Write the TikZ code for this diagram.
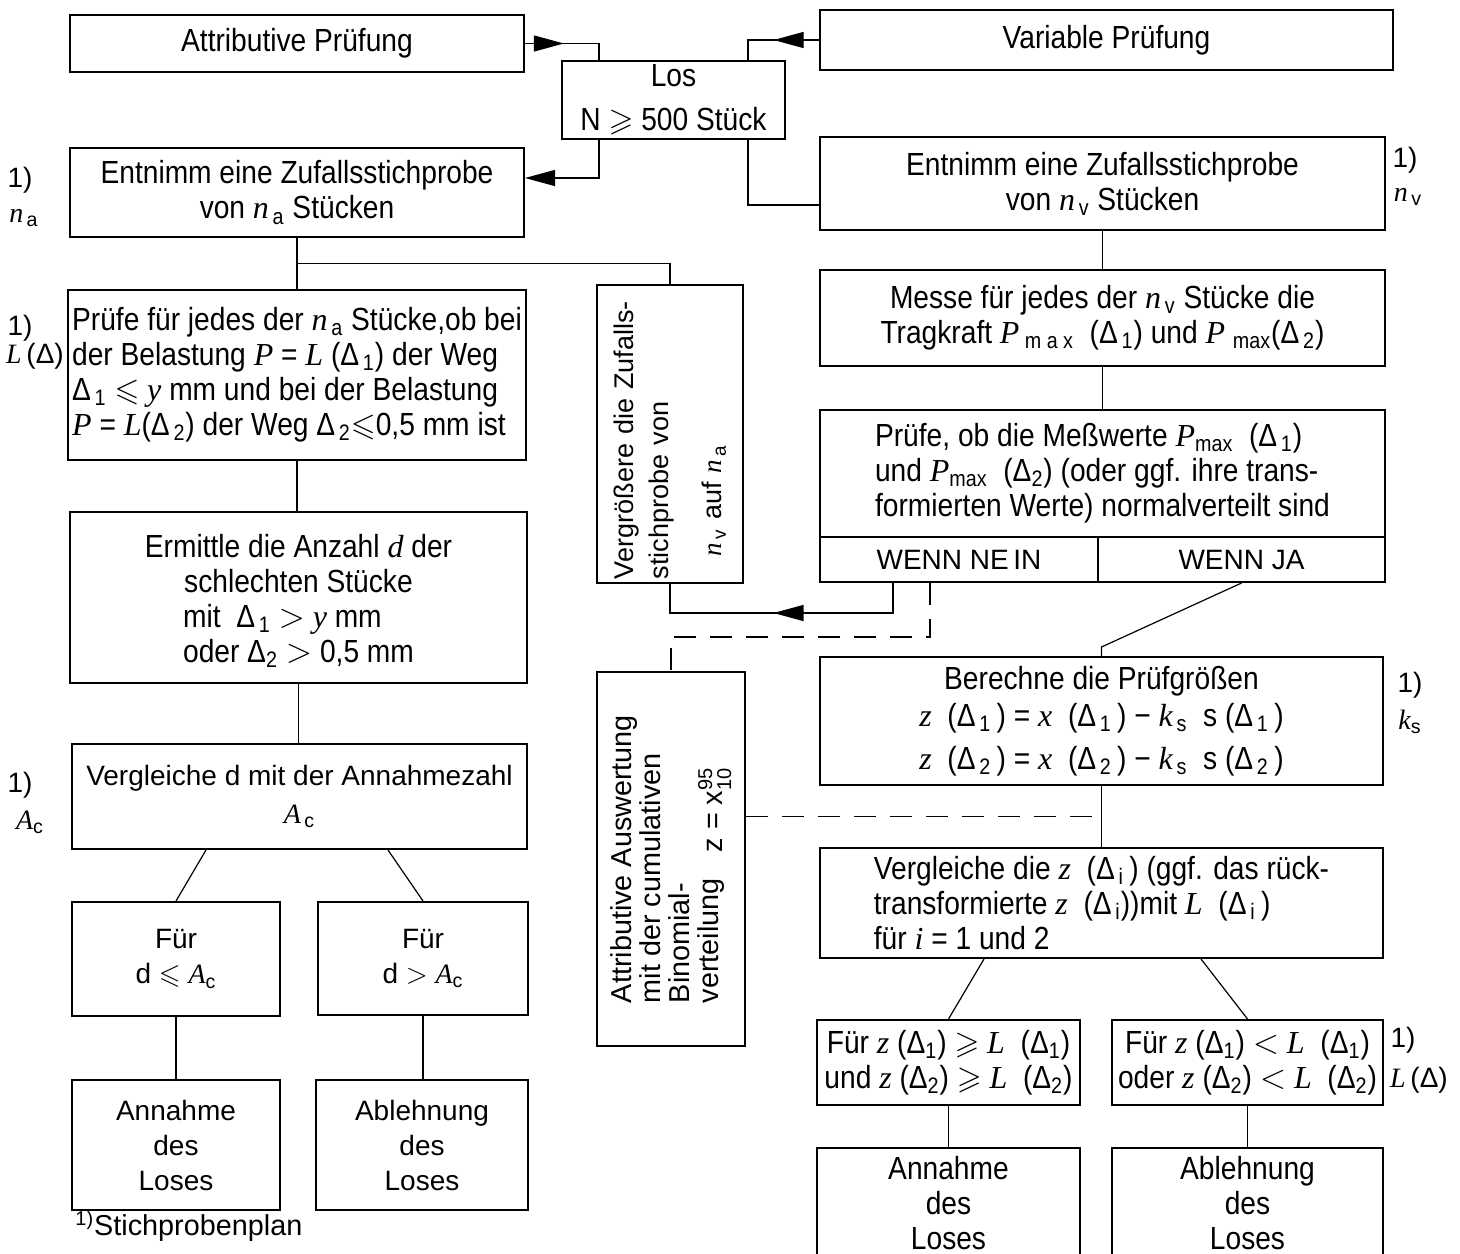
\documentclass[tikz,border=0pt]{standalone}
\usepackage{amsmath,amssymb}
\usepackage{fontspec}
\setmainfont{Liberation Sans}
\newfontfamily\condfont[FakeStretch=0.88]{Liberation Sans}
\newfontfamily\serifit{Liberation Serif}
\newcommand\iv[1]{{\serifit\itshape #1}}
\usetikzlibrary{arrows.meta,positioning,calc,decorations.markings}

\begin{document}
\begin{tikzpicture}[x=0.5pt,y=-0.5pt,>={Triangle[length=15pt,width=8pt]}]
  \tikzstyle{box}=[draw,line width=1pt,inner sep=2pt,align=center,font=\condfont\fontsize{16}{17.5}\selectfont]
  \tikzstyle{wbox}=[box,font=\fontsize{14}{17.5}\selectfont]
  \tikzstyle{rbox}=[box,rotate=90,align=left,font=\fontsize{13.5}{17.5}\selectfont]
  \tikzstyle{line}=[line width=0.6pt]
  \tikzstyle{dline}=[line,dash pattern=on 11pt off 7pt]
  \tikzstyle{note}=[inner sep=0pt,font=\fontsize{14}{17.5}\selectfont]
  \tikzset{midarrow/.style={line,postaction={decorate},
      decoration={markings,mark=at position #1 with {\arrow{>}}}}}
  \useasboundingbox (0,0) rectangle (1460,1253);

  % oben
  \node[box,minimum width=227pt,minimum height=28.5pt] (attr) at (297,43.5) {Attributive Prüfung};
  \node[box,minimum width=286.5pt,minimum height=30pt] (var) at (1106.5,40) {Variable Prüfung};
  \node[box,minimum width=111.5pt,minimum height=37pt] (los) at (673.5,100) {Los\\[4.5pt]N $\geqslant$ 500 Stück};

  % attributive Seite
  \node[box,minimum width=227pt,minimum height=44.5pt] (enta) at (297,192.5)
    {Entnimm eine Zufallsstichprobe\\von \iv{n}\textsubscript{\,a} Stücken};
  \node[box,minimum width=227pt,minimum height=85pt,align=left] (pruefa) at (297,375)
    {Prüfe für jedes der \iv{n}\textsubscript{\,a} Stücke,ob bei\\der Belastung \iv{P} = \iv{L} (Δ\textsubscript{\,1}) der Weg\\Δ\textsubscript{\,1} $\leqslant$ \iv{y} mm und bei der Belastung\\\iv{P} = \iv{L}(Δ\textsubscript{\,2}) der Weg Δ\textsubscript{\,2}$\leqslant$0,5 mm ist};
  \node[box,minimum width=228.5pt,minimum height=85.5pt] (ermittle) at (298.5,597.5)
    {\rule{0pt}{18pt}Ermittle die Anzahl \iv{d} der\\schlechten Stücke\\\begin{tabular}[t]{@{}l@{}}mit\ \ Δ\textsubscript{\,1} $>$ \iv{y} mm\\oder Δ\textsubscript{2} $>$ 0,5 mm\end{tabular}};
  \node[wbox,minimum width=227.5pt,minimum height=52.5pt] (vergla) at (299.5,796.5)
    {Vergleiche d mit der Annahmezahl\\[1.5pt]\iv{A}\textsubscript{\,c}};
  \node[wbox,minimum width=104pt,minimum height=57pt] (fuera1) at (176,959) {Für\\d $\leqslant$ \iv{A}\textsubscript{c}};
  \node[wbox,minimum width=105pt,minimum height=56.5pt] (fuera2) at (423,958.5) {Für\\d $>$ \iv{A}\textsubscript{c}};
  \node[wbox,minimum width=104pt,minimum height=65pt] (annaa) at (176,1145) {Annahme\\des\\Loses};
  \node[wbox,minimum width=106pt,minimum height=65pt] (ablea) at (422,1145) {Ablehnung\\des\\Loses};

  % Mitte
  \node[rbox,minimum width=149pt,minimum height=73pt,text width=145pt] (vergr) at (670,434)
    {Vergrößere die Zufalls-\\stichprobe von\\[9pt]\hspace*{0.85em}\iv{n}\textsubscript{\,v} auf \iv{n}\textsubscript{\,a}};
  \node[rbox,minimum width=187pt,minimum height=74pt,font=\fontsize{14.4}{14.5}\selectfont] (attaus) at (671,859)
    {Attributive Auswertung\\mit der cumulativen\\Binomial-\\verteilung\hspace{0.9em}\raisebox{-2pt}{$\text{z = x}^{\text{95}}_{\text{10}}$}};

  % variable Seite
  \node[box,minimum width=282.5pt,minimum height=46.5pt] (entv) at (1102.5,183.5)
    {Entnimm eine Zufallsstichprobe\\von \iv{n}\textsubscript{\,v} Stücken};
  \node[box,minimum width=282.5pt,minimum height=48pt] (messe) at (1102.5,318)
    {Messe für jedes der \iv{n}\textsubscript{\,v} Stücke die\\Tragkraft \iv{P}\,\textsubscript{m a x}\ \ (Δ\textsubscript{\,1}) und \iv{P}\ \textsubscript{max}(Δ\textsubscript{\,2})};
  \node[box,minimum width=282.5pt,minimum height=63.5pt,align=left] (pruefv) at (1102.5,473.5)
    {Prüfe, ob die Meßwerte \iv{P}\textsubscript{max}\ \ (Δ\textsubscript{\,1})\\und \iv{P}\textsubscript{max}\ \ (Δ\textsubscript{2}) (oder ggf. ihre trans-\\formierten Werte) normalverteilt sind};
  \node[wbox,minimum width=139pt,minimum height=22.5pt] (nein) at (959,559.5) {WENN NE\,IN};
  \node[wbox,minimum width=143.5pt,minimum height=22.5pt] (ja) at (1241.5,559.5) {\raisebox{-2pt}{WENN JA}};
  \node[box,minimum width=281.5pt,minimum height=64pt] (berech) at (1101.5,721)
    {Berechne die Prüfgrößen\\[1pt]\iv{z}\ \ (Δ\textsubscript{\,1}\,) = \iv{x}\ \ (Δ\textsubscript{\,1}\,) − \iv{k}\textsubscript{\,s}\ \ s (Δ\textsubscript{\,1}\,)\\[4pt]\iv{z}\ \ (Δ\textsubscript{\,2}\,) = \iv{x}\ \ (Δ\textsubscript{\,2}\,) − \iv{k}\textsubscript{\,s}\ \ s (Δ\textsubscript{\,2}\,)};
  \node[box,minimum width=281.5pt,minimum height=55pt,align=left] (verglv) at (1101.5,903)
    {Vergleiche die \iv{z}\ \ (Δ\textsubscript{\,i}\,) (ggf. das rück-\\transformierte \iv{z}\ \ (Δ\textsubscript{\,i}))mit \iv{L}\ \ (Δ\textsubscript{\,i}\,)\\für \iv{i} = 1 und 2};
  \node[box,minimum width=131.5pt,minimum height=42.5pt] (fuerv1) at (948.5,1062.5)
    {Für \iv{z}\ (Δ\textsubscript{1}) $\geqslant$ \iv{L}\ \ (Δ\textsubscript{1})\\und \iv{z}\ (Δ\textsubscript{2}) $\geqslant$ \iv{L}\ \ (Δ\textsubscript{2})};
  \node[box,minimum width=135.5pt,minimum height=42.5pt] (fuerv2) at (1247.5,1062.5)
    {Für \iv{z}\ (Δ\textsubscript{1}) $<$ \iv{L}\ \ (Δ\textsubscript{1})\\oder \iv{z}\ (Δ\textsubscript{2}) $<$ \iv{L}\ \ (Δ\textsubscript{2})};
  \node[box,minimum width=131.5pt,minimum height=55pt] (annav) at (948.5,1203) {Annahme\\des\\Loses};
  \node[box,minimum width=135.5pt,minimum height=55pt] (ablev) at (1247.5,1203) {Ablehnung\\des\\Loses};

  % Fussnoten-Marken
  \node[note] (fa1) at (20,180) {1)};
  \node[note] (fa2) at (24,218) {\iv{n}\textsubscript{\,a}};
  \node[note] (fb1) at (20,328) {1)};
  \node[note] (fb2) at (35,356) {\iv{L}\,(Δ)};
  \node[note] (fc1) at (20,785) {1)};
  \node[note] (fc2) at (30,822) {\iv{A}\textsubscript{c}};
  \node[note] (fd1) at (1405,160) {1)};
  \node[note] (fd2) at (1408,197) {\iv{n}\textsubscript{\,v}};
  \node[note] (fe1) at (1410,685) {1)};
  \node[note] (fe2) at (1410,722) {\iv{k}\textsubscript{s}};
  \node[note] (ff1) at (1403,1040) {1)};
  \node[note] (ff2) at (1419,1080) {\iv{L}\,(Δ)};
  \node[note,anchor=west,font=\fontsize{14.4}{17.5}\selectfont] (fuss) at (75,1226) {\textsuperscript{1)}Stichprobenplan};

  % Verbindungen
  \coordinate (losA) at ([xshift=19pt]los.north west);
  \coordinate (losV) at ([xshift=-19pt]los.north east);
  \coordinate (losAu) at ([xshift=19pt]los.south west);
  \coordinate (losVu) at ([xshift=-19pt]los.south east);
  \coordinate (entaR) at ([yshift=7.25pt]enta.east);
  \coordinate (entvL) at ([yshift=-10.75pt]entv.west);
  \draw[midarrow=0.43] (attr.east) -| (losA);
  \draw[midarrow=0.5] (var.west) -| (losV);
  \draw[line,->] (losAu) |- (entaR);
  \draw[line] (losVu) |- (entvL);

  \coordinate (gabel) at ($(enta.south)!0.5!(pruefa.north)$);
  \draw[line] (enta.south) -- (pruefa.north);
  \draw[line] (gabel) -| (vergr.east);
  \draw[line] (pruefa.south) -- (pruefa.south |- ermittle.north);
  \draw[line] (ermittle.south) -- (ermittle.south |- vergla.north);
  \draw[line] ([xshift=67.5pt]vergla.south west) -- (fuera1.north);
  \draw[line] ([xshift=-70pt]vergla.south east) -- (fuera2.north);
  \draw[line] (fuera1) -- (annaa);
  \draw[line] (fuera2.south) -- (fuera2.south |- ablea.north);

  \draw[line] (entv) -- (messe);
  \draw[line] (messe) -- (pruefv);
  \coordinate (neinA) at ([xshift=-33pt]nein.south);
  \coordinate (neinB) at ([xshift=-14.5pt]nein.south);
  \draw[midarrow=0.53] (neinA) -- ++(0,30) -| (vergr.west);
  \draw[dline] (neinB) -- ++(0,54) -| (attaus.east);
  \draw[line] (ja.south) -- ([yshift=4.5pt]berech.north) -- (berech.north);
  \coordinate (zweig) at ($(berech.south)!0.5!(verglv.north)$);
  \draw[line] (berech) -- (verglv);
  \draw[dline] (attaus.south |- zweig) -- (zweig);
  \draw[line] ([xshift=82.5pt]verglv.south west) -- (fuerv1.north);
  \draw[line] ([xshift=-91.5pt]verglv.south east) -- (fuerv2.north);
  \draw[line] (fuerv1) -- (annav);
  \draw[line] (fuerv2) -- (ablev);
\end{tikzpicture}
\end{document}
